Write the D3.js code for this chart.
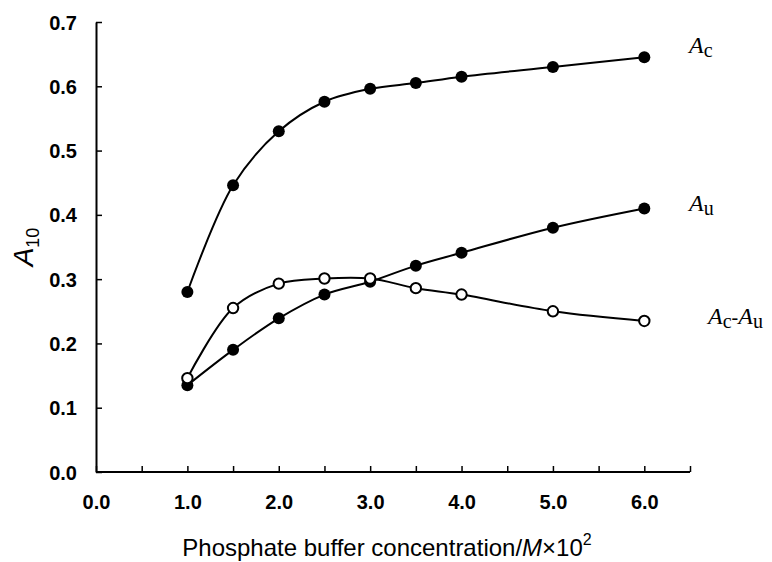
<!DOCTYPE html>
<html>
<head>
<meta charset="utf-8">
<script src="https://cdn.jsdelivr.net/npm/d3@7"></script>
<style>
  body { margin: 0; background: #fff; }
  svg { display: block; }
  .tick text { font-family: "Liberation Sans", Arial, sans-serif; font-weight: bold; font-size: 20px; fill: #000; }
  .lbl { font-family: "Liberation Serif", "Times New Roman", serif; font-size: 24px; fill: #000; }
</style>
</head>
<body>
<div id="chart"></div>
<script>
  // concentration (M x 10^2)
  var conc = [1.0, 1.5, 2.0, 2.5, 3.0, 3.5, 4.0, 5.0, 6.0];
  var Ac   = [0.280, 0.446, 0.530, 0.576, 0.596, 0.605, 0.615, 0.630, 0.645];
  var Au   = [0.135, 0.190, 0.239, 0.276, 0.296, 0.321, 0.341, 0.380, 0.410];
  var diff = [0.146, 0.255, 0.293, 0.301, 0.301, 0.286, 0.276, 0.250, 0.235];

  var xTicks = [0, 0.5, 1, 1.5, 2, 2.5, 3, 3.5, 4, 4.5, 5, 5.5, 6, 6.5];
  var xLabels = [0, 1, 2, 3, 4, 5, 6];
  var yTicks = [0, 0.1, 0.2, 0.3, 0.4, 0.5, 0.6, 0.7];

  var width = 772, height = 562;

  var svg = d3.select("#chart").append("svg")
    .attr("width", width)
    .attr("height", height);

  var x = d3.scaleLinear().domain([0, 6.5]).range([96, 690]);
  var y = d3.scaleLinear().domain([0, 0.7]).range([472, 22]);

  // axes, ticks pointing inward
  var xAxis = svg.append("g")
    .attr("transform", "translate(0," + y(0) + ")")
    .call(d3.axisBottom(x).tickValues(xTicks).tickSizeInner(-6).tickSizeOuter(0).tickFormat(""));
  xAxis.select(".domain").attr("stroke-width", 2).attr("d", "M" + x(0) + ",0H" + x(6.5));
  xAxis.selectAll(".tick line").attr("stroke-width", 1.5);

  svg.append("g")
    .attr("transform", "translate(0," + y(0) + ")")
    .call(d3.axisBottom(x).tickValues(xLabels).tickSize(0).tickPadding(23).tickFormat(d3.format(".1f")))
    .call(function(g) { g.select(".domain").remove(); });

  var yAxis = svg.append("g")
    .attr("transform", "translate(" + x(0) + ",0)")
    .call(d3.axisLeft(y).tickValues(yTicks).tickSizeInner(-6).tickSizeOuter(0).tickPadding(19).tickFormat(d3.format(".1f")));
  yAxis.select(".domain").attr("stroke-width", 2);
  yAxis.selectAll(".tick line").attr("stroke-width", 1.5);
  yAxis.selectAll(".tick text").attr("dy", "0.35em");

  // curves
  var line = d3.line()
    .x(function(d) { return x(d[0]); })
    .y(function(d) { return y(d[1]); })
    .curve(d3.curveCatmullRom.alpha(0.5));

  var series = [
    { vals: Ac, open: false },
    { vals: Au, open: false },
    { vals: diff, open: true }
  ];

  series.forEach(function(s) {
    var pts = conc.map(function(c, i) { return [c, s.vals[i]]; });
    svg.append("path")
      .datum(pts)
      .attr("d", line)
      .attr("fill", "none")
      .attr("stroke", "#000")
      .attr("stroke-width", 2);
  });

  series.forEach(function(s) {
    var pts = conc.map(function(c, i) { return [c, s.vals[i]]; });
    svg.selectAll(null)
      .data(pts)
      .enter().append("circle")
      .attr("cx", function(d) { return x(d[0]); })
      .attr("cy", function(d) { return y(d[1]); })
      .attr("r", s.open ? 5.2 : 6)
      .attr("fill", s.open ? "#fff" : "#000")
      .attr("stroke", "#000")
      .attr("stroke-width", s.open ? 2 : 0);
  });

  // series labels
  function seriesLabel(tx, ty, parts) {
    var t = svg.append("text").attr("class", "lbl").attr("x", tx).attr("y", ty);
    parts.forEach(function(p) {
      var ts = t.append("tspan").text(p.t);
      if (p.it) ts.style("font-style", "italic");
      if (p.sub) ts.attr("dy", p.sub).attr("font-size", "20px");
    });
  }
  seriesLabel(689, 53, [{ t: "A", it: true }, { t: "c", sub: "4" }]);
  seriesLabel(689, 211, [{ t: "A", it: true }, { t: "u", sub: "4" }]);
  seriesLabel(708, 324, [{ t: "A", it: true }, { t: "c", sub: "4" }, { t: "-", sub: "-4" }, { t: "A", it: true }, { t: "u", sub: "4" }]);

  // axis titles
  var xt = svg.append("text")
    .attr("x", 387).attr("y", 556)
    .attr("text-anchor", "middle")
    .style("font-family", "Liberation Sans, Arial, sans-serif")
    .style("font-size", "24px");
  xt.append("tspan").text("Phosphate buffer concentration/");
  xt.append("tspan").text("M").style("font-style", "italic");
  xt.append("tspan").text("\u00d710");
  xt.append("tspan").text("2").attr("dy", "-11").style("font-size", "16px");

  var yt = svg.append("text")
    .attr("transform", "translate(33,247) rotate(-90)")
    .attr("text-anchor", "middle")
    .style("font-family", "Liberation Sans, Arial, sans-serif")
    .style("font-size", "28px");
  yt.append("tspan").text("A").style("font-style", "italic");
  yt.append("tspan").text("10").attr("dy", "6").style("font-size", "18px");
</script>
</body>
</html>
